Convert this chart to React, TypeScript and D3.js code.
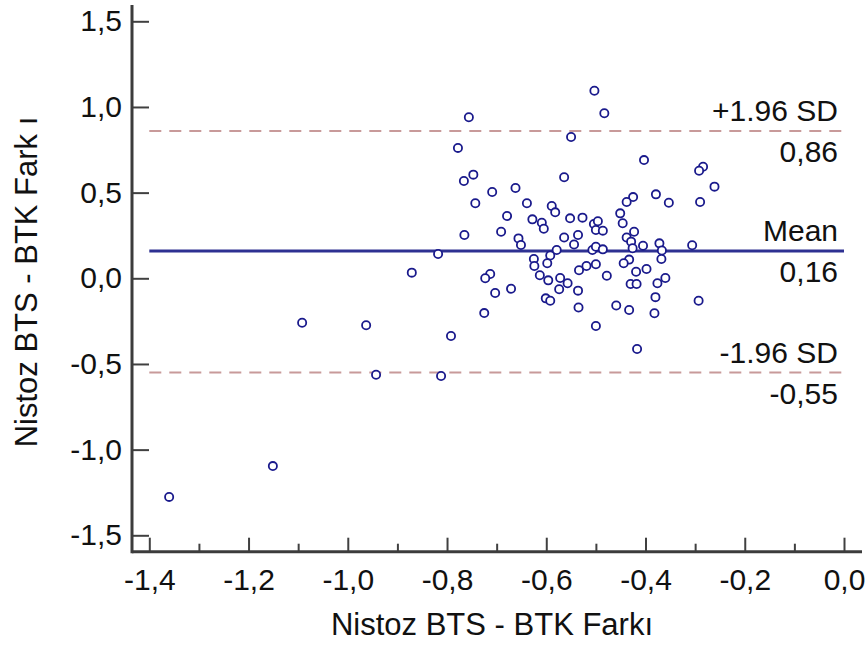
import React, { useEffect, useRef } from 'react';
import * as d3 from 'd3';

// Bland-Altman: difference values
const diffX = [
  -0.503, -0.756, -0.483, -0.550, -0.778, -0.403, -0.284, -0.292, -0.747, -0.766,
  -0.564, -0.261, -0.709, -0.662, -0.379, -0.425, -0.438, -0.353, -0.290, -0.743,
  -0.639, -0.589, -0.582, -0.679, -0.628, -0.609, -0.605, -0.552, -0.527, -0.504,
  -0.496, -0.500, -0.486, -0.451, -0.446, -0.765, -0.691, -0.656, -0.651, -0.564,
  -0.536, -0.544, -0.423, -0.438, -0.429, -0.405, -0.426, -0.372, -0.367, -0.306,
  -0.579, -0.592, -0.818, -0.625, -0.624, -0.598, -0.507, -0.500, -0.486, -0.368,
  -0.433, -0.444, -0.500, -0.519, -0.534, -0.398, -0.419, -0.478, -0.360, -0.376,
  -0.430, -0.418, -0.871, -0.713, -0.723, -0.613, -0.596, -0.572, -0.557, -0.574,
  -0.536, -0.671, -0.703, -0.601, -0.592, -0.380, -0.293, -0.535, -0.459, -0.433,
  -0.382, -0.725, -0.792, -0.500, -0.417, -1.092, -0.963, -0.943, -0.812, -1.151,
  -1.360,
];
const diffY = [
  1.095, 0.940, 0.963, 0.825, 0.761, 0.690, 0.651, 0.628, 0.605, 0.568,
  0.590, 0.535, 0.504, 0.527, 0.490, 0.474, 0.445, 0.441, 0.445, 0.438,
  0.438, 0.422, 0.385, 0.364, 0.344, 0.324, 0.289, 0.350, 0.354, 0.317,
  0.333, 0.282, 0.278, 0.379, 0.321, 0.253, 0.272, 0.233, 0.194, 0.238,
  0.253, 0.197, 0.272, 0.238, 0.214, 0.190, 0.175, 0.204, 0.162, 0.193,
  0.165, 0.133, 0.142, 0.113, 0.072, 0.088, 0.165, 0.184, 0.169, 0.113,
  0.109, 0.088, 0.082, 0.072, 0.047, 0.054, 0.038, 0.015, 0.002, -0.029,
  -0.033, -0.033, 0.033, 0.025, 0.000, 0.018, -0.012, 0.002, -0.029, -0.064,
  -0.072, -0.061, -0.086, -0.117, -0.131, -0.110, -0.131, -0.170, -0.159, -0.185,
  -0.204, -0.203, -0.337, -0.278, -0.413, -0.259, -0.274, -0.563, -0.570, -1.096,
  -1.276,
];

const limitValues = [0.86, 0.16, -0.55];
const limitNames = ['+1.96 SD', 'Mean', '-1.96 SD'];
const limitLabels = ['0,86', '0,16', '-0,55'];

const xTicks = [-1.4, -1.2, -1.0, -0.8, -0.6, -0.4, -0.2, 0.0];
const xMinorTicks = [-1.3, -1.1, -0.9, -0.7, -0.5, -0.3, -0.1];
const yTicks = [-1.5, -1.0, -0.5, 0.0, 0.5, 1.0, 1.5];

const xTitle = 'Nistoz BTS - BTK Farkı';
const yTitle = 'Nistoz BTS - BTK Fark ı';

export default function App() {
  const ref = useRef<SVGSVGElement>(null);

  useEffect(() => {
    const width = 868, height = 645;
    const axisX = 132, axisY = 551.7;
    const font = 'Arial, "Liberation Sans", sans-serif';

    const svg = d3.select(ref.current);
    svg.selectAll('*').remove();

    const x = d3.scaleLinear().domain([-1.4, 0]).range([149.3, 844]);
    const y = d3.scaleLinear().domain([-1.5, 1.5]).range([535.3, 21.3]);

    const fmt = d3.formatLocale({
      decimal: ',', thousands: '.', grouping: [3], currency: ['', ''], minus: '-',
    }).format('.1f');

    // x axis, ticks point up into the plot
    const gx = svg.append('g').attr('transform', `translate(0,${axisY})`);
    gx.call(d3.axisBottom(x).tickValues(xTicks).tickFormat(d => fmt(d as number))
      .tickSizeInner(-14).tickSizeOuter(0).tickPadding(17));
    svg.append('g').attr('transform', `translate(0,${axisY})`)
      .call(d3.axisBottom(x).tickValues(xMinorTicks).tickFormat(() => '')
        .tickSizeInner(-8).tickSizeOuter(0));

    // y axis, ticks point right into the plot
    const gy = svg.append('g').attr('transform', `translate(${axisX},0)`);
    gy.call(d3.axisLeft(y).tickValues(yTicks).tickFormat(d => fmt(d as number))
      .tickSizeInner(-17).tickSizeOuter(0).tickPadding(10));

    svg.selectAll('.domain').remove();
    svg.selectAll('.tick line').attr('stroke', '#404040').attr('stroke-width', 2);
    svg.selectAll('.tick text')
      .attr('fill', '#111').style('font-family', font).style('font-size', '30px');

    svg.append('line')
      .attr('x1', axisX).attr('x2', 862).attr('y1', axisY).attr('y2', axisY)
      .attr('stroke', '#3c3c3c').attr('stroke-width', 3);
    svg.append('line')
      .attr('x1', axisX).attr('x2', axisX).attr('y1', 5).attr('y2', axisY + 1.5)
      .attr('stroke', '#3c3c3c').attr('stroke-width', 3);

    // mean and limits of agreement
    svg.append('g').selectAll('line').data(limitValues).enter().append('line')
      .attr('x1', x(-1.4)).attr('x2', x(0))
      .attr('y1', d => y(d)).attr('y2', d => y(d))
      .attr('stroke', (d, i) => i === 1 ? '#2e3192' : '#c89a9a')
      .attr('stroke-width', (d, i) => i === 1 ? 3 : 2)
      .attr('stroke-dasharray', (d, i) => i === 1 ? null : '12,8');

    const lab = svg.append('g').style('font-family', font).style('font-size', '30px')
      .attr('text-anchor', 'end').attr('fill', '#111');
    lab.selectAll('text.name').data(limitValues).enter().append('text')
      .attr('class', 'name')
      .attr('x', 838).attr('y', d => y(d) - 10)
      .text((d, i) => limitNames[i]);
    lab.selectAll('text.val').data(limitValues).enter().append('text')
      .attr('class', 'val')
      .attr('x', 838).attr('y', d => y(d) + 31)
      .text((d, i) => limitLabels[i]);

    // points
    svg.append('g').selectAll('circle').data(diffX).enter().append('circle')
      .attr('cx', d => x(d)).attr('cy', (d, i) => y(diffY[i]))
      .attr('r', 4.1)
      .attr('fill', 'white')
      .attr('stroke', '#1a1a8c').attr('stroke-width', 1.8);

    // titles
    svg.append('text')
      .attr('x', 492).attr('y', 635)
      .attr('text-anchor', 'middle')
      .style('font-family', font).style('font-size', '31px').attr('fill', '#111')
      .text(xTitle);
    svg.append('text')
      .attr('transform', `translate(37,282) rotate(-90)`)
      .attr('text-anchor', 'middle')
      .style('font-family', font).style('font-size', '31px').attr('fill', '#111')
      .text(yTitle);

    svg.attr('width', width).attr('height', height);
  }, []);

  return (
    <svg ref={ref} width={868} height={645}
      style={{ position: 'absolute', left: 0, top: 0, background: 'white' }} />
  );
}
